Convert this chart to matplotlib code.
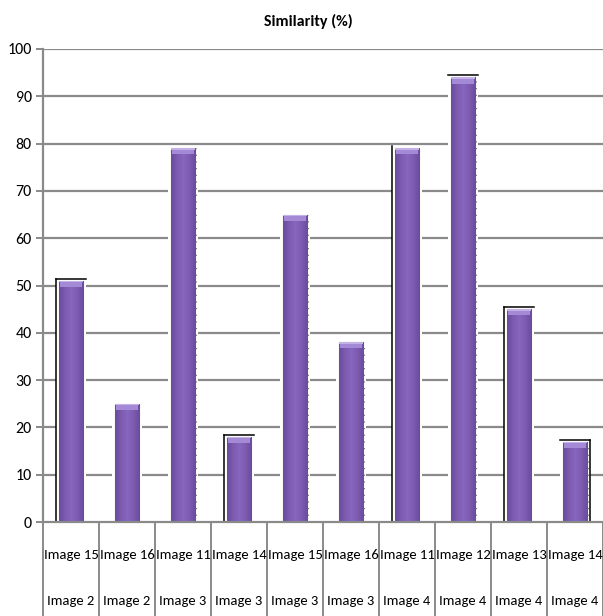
import numpy as np
import matplotlib
matplotlib.use('Agg')
import matplotlib.pyplot as plt
from matplotlib import font_manager
from matplotlib.colors import LinearSegmentedColormap
from matplotlib.transforms import blended_transform_factory

installed = {f.name for f in font_manager.fontManager.ttflist}
for fam in ['Carlito', 'Roboto Condensed', 'Open Sans Condensed', 'Lato']:
    if fam in installed:
        break
plt.rcParams['font.family'] = [fam, 'DejaVu Sans']

# query image / reference image pairs and their similarity score
queries = ['Image 15', 'Image 16', 'Image 11', 'Image 14', 'Image 15',
           'Image 16', 'Image 11', 'Image 12', 'Image 13', 'Image 14']
targets = ['Image 2', 'Image 2', 'Image 3', 'Image 3', 'Image 3',
           'Image 3', 'Image 4', 'Image 4', 'Image 4', 'Image 4']
similarity = [51, 25, 79, 18, 65, 38, 79, 94, 45, 17]

# leftover selection frames around some bars (l = left, t = top, r = right)
frames = {0: 'lt', 3: 'lt', 6: 'l', 7: 't', 8: 'lt', 9: 'tr'}
dotted = [2, 4, 5, 7, 9]

BAR_W = 0.43
GAP_W = 0.53
GRID = '#8a8a8a'

fig = plt.figure(figsize=(6.03, 6.16), dpi=100)
ax = fig.add_axes([43 / 603, 1 - 522 / 616, 560 / 603, 473 / 616])

x = np.arange(len(similarity))
ax.set_xlim(-0.5, len(similarity) - 0.5)
ax.set_ylim(0, 100)

# gridlines
for v in range(10, 101, 10):
    ax.axhline(v, color=GRID, lw=1.6, zorder=1)

# white halo so the gridlines stop short of each bar
ax.bar(x, similarity, width=GAP_W, color='white', zorder=2)

cmap = LinearSegmentedColormap.from_list(
    'bar', ['#6a4b9c', '#7c5bb1', '#8866be', '#7c5bb1', '#6a4b9c'])
grad = np.linspace(0, 1, 64).reshape(1, -1)

bars = ax.bar(x, similarity, width=BAR_W, color='#7c5cb2',
              edgecolor='#a49cb4', lw=0.8, zorder=3)
for b in bars:
    x0, w, h = b.get_x(), b.get_width(), b.get_height()
    im = ax.imshow(grad, cmap=cmap, aspect='auto', zorder=3.5,
                   extent=(x0, x0 + w, 0, h), interpolation='bicubic')
    im.set_clip_path(b)
    # lighter bevel at the top of the bar
    ax.bar(x0 + w / 2, 1.0, width=w * 0.9, bottom=h - 1.3,
           color='#a489d6', lw=0, zorder=4)
    ax.bar(x0 + w / 2, 0.3, width=w, bottom=h - 0.3,
           color='#c4b2e6', lw=0, zorder=4)

# black frame fragments
half = 0.27
for i, sides in frames.items():
    top = similarity[i] + 0.4
    if 'l' in sides:
        ax.plot([i - half, i - half], [0, top], color='black', lw=1.1, zorder=5)
    if 't' in sides:
        ax.plot([i - half, i + half], [top, top], color='black', lw=1.1, zorder=5)
    if 'r' in sides:
        ax.plot([i + half, i + half], [0, top], color='black', lw=1.1, zorder=5)

for i in dotted:
    ax.plot([i + 0.225, i + 0.225], [0, similarity[i]], color='#777777',
            lw=0.8, ls=(0, (1, 5)), zorder=5)

# axes
for s in ['top', 'right', 'bottom']:
    ax.spines[s].set_visible(False)
ax.spines['left'].set_color(GRID)
ax.spines['left'].set_linewidth(1.6)
ax.axhline(0, color=GRID, lw=1.6, zorder=6, clip_on=False)
ax.set_yticks(range(0, 101, 10))
ax.tick_params(axis='y', length=5, width=1.4, color=GRID, labelsize=11.5,
               pad=3)
ax.set_xticks([])

# two-level category axis
trans = blended_transform_factory(ax.transData, ax.transAxes)
depth = (616 - 522) / 473
for k in range(len(similarity) + 1):
    ax.plot([k - 0.5, k - 0.5], [0, -depth], color=GRID, lw=1.4,
            transform=trans, clip_on=False)
for i in x:
    ax.text(i, -33 / 473, queries[i], transform=trans, ha='center',
            va='center', fontsize=10.5)
    ax.text(i, -79 / 473, targets[i], transform=trans, ha='center',
            va='center', fontsize=10.5)

fig.text(308 / 603, 1 - 21 / 616, 'Similarity (%)', ha='center', va='center',
         fontsize=11.5, fontweight='bold')

fig.savefig('out.png', dpi=100)
